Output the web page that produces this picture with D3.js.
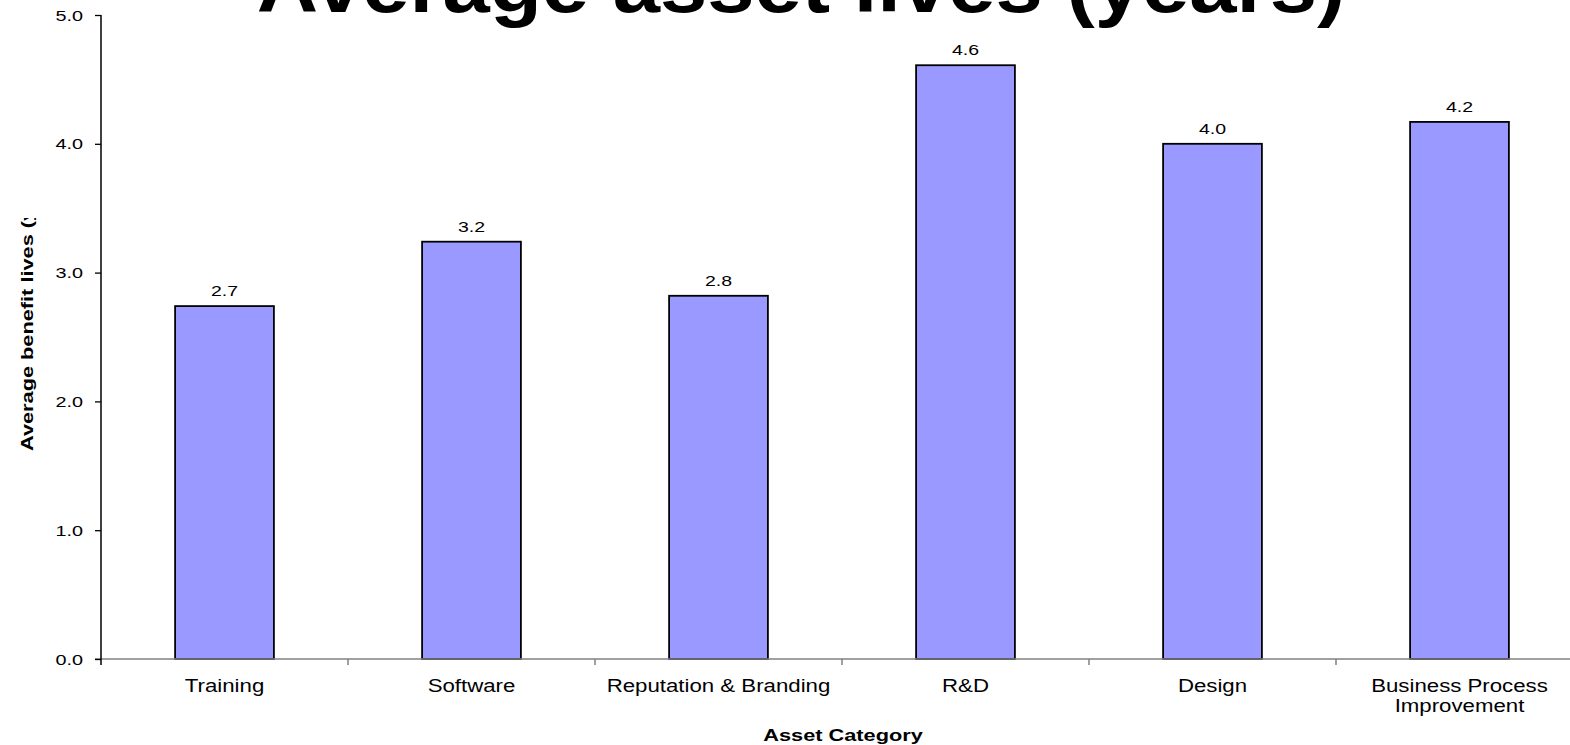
<!DOCTYPE html>
<html>
<head>
<meta charset="utf-8">
<script src="https://cdn.jsdelivr.net/npm/d3@7"></script>
<style>
  html, body { margin: 0; padding: 0; background: #fff; overflow: hidden; }
  svg { display: block; font-family: Arial, "Liberation Sans", sans-serif; }
</style>
</head>
<body>
<svg id="chart" width="1570" height="745"></svg>
<script>
// Asset categories (multi-line labels split on "\n")
const categories = [
  "Training",
  "Software",
  "Reputation & Branding",
  "R&D",
  "Design",
  "Business Process\nImprovement"
];
// Average benefit life per category, in years
const lifeYears = [2.74, 3.24, 2.82, 4.61, 4.0, 4.17];
// Value axis ticks
const yTicks = [0, 1, 2, 3, 4, 5];

const titleText = "Average asset lives (years)";
const xTitleText = "Asset Category";
const yTitleText = "Average benefit lives (years)";

const fmt = d3.format(".1f");

const svg = d3.select("#chart");
const plotLeft = 101, plotTop = 15, plotBottom = 659;
const step = 247;
const plotRight = plotLeft + step * categories.length;

const x = d3.scaleBand()
  .domain(categories)
  .range([plotLeft, plotRight])
  .paddingInner(0.6)
  .paddingOuter(0.3);

const y = d3.scaleLinear().domain([0, 5]).range([plotBottom, plotTop]);

// Text helper: draws text widened along its own baseline
function wideText(g, str, px, py, opts) {
  const o = Object.assign({ size: 15, sx: 1.3, weight: "normal", anchor: "middle", rot: 0 }, opts);
  return g.append("text")
    .attr("transform", `translate(${px},${py}) rotate(${o.rot}) scale(${o.sx},1)`)
    .attr("text-anchor", o.anchor)
    .attr("font-size", o.size)
    .attr("font-weight", o.weight)
    .attr("fill", "#000")
    .text(str);
}

// Bars
svg.append("g")
  .selectAll("rect")
  .data(lifeYears)
  .join("rect")
  .attr("x", (d, i) => x(categories[i]))
  .attr("y", d => y(d))
  .attr("width", x.bandwidth())
  .attr("height", d => y(0) - y(d))
  .attr("fill", "#9999FF")
  .attr("stroke", "#000")
  .attr("stroke-width", 1.8);

// Value labels above bars
const valG = svg.append("g");
lifeYears.forEach((d, i) => {
  wideText(valG, fmt(d), x(categories[i]) + x.bandwidth() / 2, y(d) - 10, { size: 15, sx: 1.3 });
});

// X axis (grey baseline with tick marks between categories)
const xAxisG = svg.append("g");
xAxisG.append("line")
  .attr("x1", plotLeft - 6).attr("x2", 1570)
  .attr("y1", y(0)).attr("y2", y(0))
  .attr("stroke", "#808080").attr("stroke-width", 1.5);
const bounds = d3.range(1, categories.length + 1).map(i => plotLeft + i * x.step());
xAxisG.selectAll("line.tick")
  .data(bounds)
  .join("line")
  .attr("class", "tick")
  .attr("x1", d => d).attr("x2", d => d)
  .attr("y1", y(0)).attr("y2", y(0) + 6)
  .attr("stroke", "#808080").attr("stroke-width", 1.5);

// Category labels
const catG = svg.append("g");
categories.forEach(c => {
  const lines = c.split("\n");
  const cx = x(c) + x.bandwidth() / 2;
  lines.forEach((ln, j) => {
    wideText(catG, ln, cx, 692 + j * 20, { size: 17.5, sx: 1.27 });
  });
});

// Y axis
const yAxis = d3.axisLeft(y).tickValues(yTicks).tickSize(6).tickSizeOuter(0).tickFormat("");
const yAxisG = svg.append("g").attr("transform", `translate(${plotLeft},0)`).call(yAxis);
yAxisG.select(".domain").remove();
yAxisG.selectAll(".tick line").attr("stroke", "#000").attr("stroke-width", 1.3);
yAxisG.append("line")
  .attr("x1", 0).attr("x2", 0)
  .attr("y1", plotTop).attr("y2", y(0) + 6)
  .attr("stroke", "#000").attr("stroke-width", 1.5);

const yLabG = svg.append("g");
yTicks.forEach(t => {
  wideText(yLabG, fmt(t), 83, y(t) + 5.5, { size: 15, sx: 1.32, anchor: "end" });
});

// Axis titles
wideText(svg, xTitleText, 843, 741, { size: 17, sx: 1.28, weight: "bold" });

svg.append("clipPath").attr("id", "yTitleClip")
  .append("rect").attr("x", 0).attr("y", 218).attr("width", 80).attr("height", 300);
const yTitleG = svg.append("g").attr("clip-path", "url(#yTitleClip)");
wideText(yTitleG, yTitleText, 33, 451, { size: 17, sx: 1.28, weight: "bold", anchor: "start", rot: -90 });

// Chart title
wideText(svg, titleText, 801, 12, { size: 78, sx: 1.09, weight: "bold" });
</script>
</body>
</html>
